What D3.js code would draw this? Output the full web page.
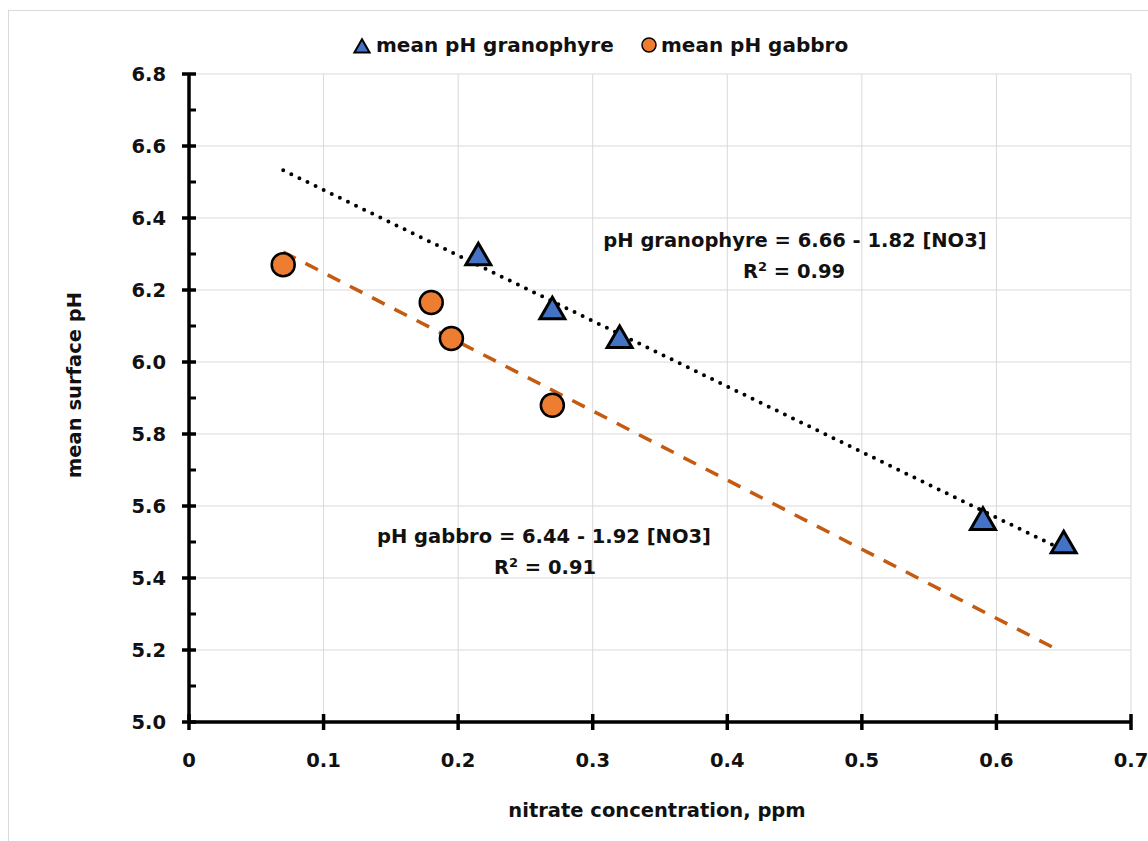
<!DOCTYPE html>
<html><head><meta charset="utf-8">
<script src="https://cdn.jsdelivr.net/npm/d3@7"></script>
<style>body{margin:0;background:#fff}svg{display:block}text{font-family:"DejaVu Sans",sans-serif;font-weight:bold;fill:#111}</style>
</head><body><svg id="c" width="1148" height="841"></svg>
<script>
const granoX = [0.215, 0.27, 0.32, 0.59, 0.65];
const granoY = [6.30, 6.15, 6.07, 5.565, 5.50];
const gabbroX = [0.07, 0.18, 0.195, 0.27];
const gabbroY = [6.27, 6.165, 6.065, 5.88];
const granoFit = {a: 6.66, b: -1.82, x0: 0.07, x1: 0.65};
const gabbroFit = {a: 6.44, b: -1.92, x0: 0.07, x1: 0.645};
const xTicks = [0, 0.1, 0.2, 0.3, 0.4, 0.5, 0.6, 0.7];
const yTicks = [5.0, 5.2, 5.4, 5.6, 5.8, 6.0, 6.2, 6.4, 6.6, 6.8];
const yMinor = [5.1, 5.3, 5.5, 5.7, 5.9, 6.1, 6.3, 6.5, 6.7];

const FS = 19.5;
const svg = d3.select("#c");
const x = d3.scaleLinear().domain([0, 0.7]).range([189, 1131]);
const y = d3.scaleLinear().domain([5.0, 6.8]).range([722, 74]);

svg.append("rect").attr("x", 8.5).attr("y", 10.5).attr("width", 1160).attr("height", 850)
  .attr("fill", "none").attr("stroke", "#d9d9d9");

// grid
svg.append("g").selectAll("line").data(xTicks.slice(1)).join("line")
  .attr("x1", d => x(d)).attr("x2", d => x(d)).attr("y1", y(5.0)).attr("y2", y(6.8))
  .attr("stroke", "#d9d9d9").attr("stroke-width", 1);
svg.append("g").selectAll("line").data(yTicks.slice(1)).join("line")
  .attr("x1", x(0)).attr("x2", x(0.7)).attr("y1", d => y(d)).attr("y2", d => y(d))
  .attr("stroke", "#d9d9d9").attr("stroke-width", 1);

// trendlines
const line = d3.line().x(d => x(d[0])).y(d => y(d[1]));
const fitPts = f => [[f.x0, f.a + f.b * f.x0], [f.x1, f.a + f.b * f.x1]];
svg.append("path").attr("d", line(fitPts(granoFit))).attr("stroke", "#000")
  .attr("stroke-width", 4).attr("stroke-dasharray", "0 9").attr("stroke-linecap", "round").attr("fill", "none");
svg.append("path").attr("d", line(fitPts(gabbroFit))).attr("stroke", "#C55A11")
  .attr("stroke-width", 3.5).attr("stroke-dasharray", "14 11").attr("fill", "none");

// axes
const yAxis = svg.append("g");
yAxis.append("line").attr("x1", x(0)).attr("x2", x(0)).attr("y1", y(5.0)).attr("y2", y(6.8))
  .attr("stroke", "#000").attr("stroke-width", 3.5);
yAxis.selectAll(".maj").data(yTicks).join("line").attr("class", "maj")
  .attr("x1", x(0) - 7).attr("x2", x(0) + 7).attr("y1", d => y(d)).attr("y2", d => y(d))
  .attr("stroke", "#000").attr("stroke-width", 3.5);
yAxis.selectAll(".min").data(yMinor).join("line").attr("class", "min")
  .attr("x1", x(0)).attr("x2", x(0) + 7).attr("y1", d => y(d)).attr("y2", d => y(d))
  .attr("stroke", "#000").attr("stroke-width", 3);
yAxis.selectAll("text").data(yTicks).join("text")
  .attr("x", x(0) - 23).attr("y", d => y(d)).attr("dy", "0.36em").attr("text-anchor", "end")
  .attr("font-size", FS).text(d => d.toFixed(1));

const xAxis = svg.append("g");
xAxis.append("line").attr("x1", x(0)).attr("x2", x(0.7)).attr("y1", y(5.0)).attr("y2", y(5.0))
  .attr("stroke", "#000").attr("stroke-width", 3.5);
xAxis.selectAll(".maj").data(xTicks).join("line").attr("class", "maj")
  .attr("x1", d => x(d)).attr("x2", d => x(d)).attr("y1", y(5.0) - 8).attr("y2", y(5.0) + 8)
  .attr("stroke", "#000").attr("stroke-width", 3.5);
xAxis.selectAll("text").data(xTicks).join("text")
  .attr("x", d => x(d)).attr("y", 767).attr("text-anchor", "middle")
  .attr("font-size", FS).text(d => d === 0 ? "0" : d.toFixed(1));

// axis titles
svg.append("text").attr("transform", `translate(81,385) rotate(-90)`)
  .attr("text-anchor", "middle").attr("font-size", FS).text("mean surface pH");
svg.append("text").attr("x", 657).attr("y", 817).attr("text-anchor", "middle")
  .attr("font-size", FS).text("nitrate concentration, ppm");

// markers
const tri = d3.symbol().type(d3.symbolTriangle).size(270);
const triOff = Math.sqrt(270 / (Math.sqrt(3) * 3)) / 2;
svg.append("g").selectAll("circle").data(gabbroX.map((v, i) => [v, gabbroY[i]])).join("circle")
  .attr("cx", d => x(d[0])).attr("cy", d => y(d[1])).attr("r", 11.5)
  .attr("fill", "#ED7D31").attr("stroke", "#000").attr("stroke-width", 2.5);
svg.append("g").selectAll("path").data(granoX.map((v, i) => [v, granoY[i]])).join("path")
  .attr("d", tri).attr("transform", d => `translate(${x(d[0])},${y(d[1]) + triOff})`)
  .attr("fill", "#4472C4").attr("stroke", "#000").attr("stroke-width", 3).attr("stroke-linejoin", "miter");

// annotations
const ann = svg.append("g").attr("font-size", FS).attr("text-anchor", "middle");
ann.append("text").attr("x", 795).attr("y", 247).text("pH granophyre = 6.66 - 1.82 [NO3]");
ann.append("text").attr("x", 794).attr("y", 278).html('R<tspan dy="-7" font-size="13">2</tspan><tspan dy="7"> = 0.99</tspan>');
ann.append("text").attr("x", 544).attr("y", 543).text("pH gabbro = 6.44 - 1.92 [NO3]");
ann.append("text").attr("x", 545).attr("y", 574).html('R<tspan dy="-7" font-size="13">2</tspan><tspan dy="7"> = 0.91</tspan>');

// legend
const leg = svg.append("g");
leg.append("path").attr("d", d3.symbol().type(d3.symbolTriangle).size(100))
  .attr("transform", "translate(362,48)").attr("fill", "#4472C4").attr("stroke", "#000").attr("stroke-width", 2);
leg.append("text").attr("x", 376).attr("y", 52).attr("font-size", 20).text("mean pH granophyre");
leg.append("circle").attr("cx", 649).attr("cy", 45).attr("r", 7)
  .attr("fill", "#ED7D31").attr("stroke", "#000").attr("stroke-width", 1.5);
leg.append("text").attr("x", 661).attr("y", 52).attr("font-size", 20).text("mean pH gabbro");
</script></body></html>
